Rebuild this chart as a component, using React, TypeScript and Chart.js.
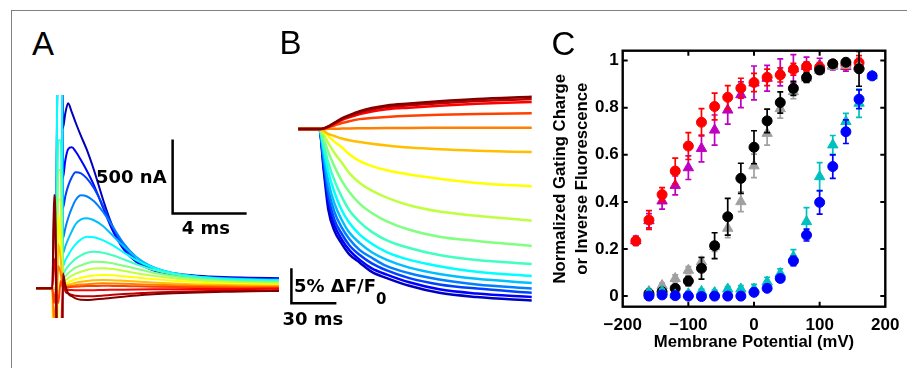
import React, { useEffect, useRef } from "react";
import { Chart, registerables } from "chart.js";

Chart.register(...registerables);

// ---------------- Panel A : gating currents (nA) vs time (ms) ----------------
const aTimeMs = [-1.13, -0.25, -0.16, -0.05, 0.07, 0.2, 0.32, 0.45, 0.6, 0.8, 1.0, 1.3, 1.6, 2.0, 2.5, 3.0, 3.6, 4.3, 5.2, 6.3, 7.6, 9.0, 10.5, 12.0];
const aCurrents = [
  [0, 0, 0, 0, 3000, 3000, 1082, 1183, 1251, 1190, 1122, 1028, 940, 798, 595, 419, 270, 183, 128, 101, 85, 76, 71, 68],
  [0, 0, 0, 0, 3000, 3000, 744, 865, 940, 953, 926, 865, 798, 696, 541, 392, 264, 176, 122, 95, 78, 71, 66, 64],
  [0, 0, 0, 0, 3000, 3000, 541, 622, 690, 750, 784, 777, 744, 676, 554, 419, 284, 189, 128, 95, 78, 69, 64, 61],
  [0, 0, 0, 0, 3000, 3000, 338, 406, 473, 541, 595, 629, 622, 588, 514, 419, 304, 210, 142, 101, 78, 68, 61, 57],
  [0, 0, 0, 0, 3000, 3000, 237, 284, 331, 385, 433, 466, 473, 460, 419, 358, 284, 210, 142, 101, 78, 66, 59, 56],
  [0, 0, 0, 0, 3000, 3000, 149, 189, 223, 264, 297, 331, 349, 345, 324, 291, 243, 189, 139, 101, 78, 64, 57, 54],
  [0, 0, 0, 0, 1000, 1000, 95, 122, 149, 176, 199, 223, 240, 247, 240, 223, 196, 162, 125, 95, 71, 57, 51, 47],
  [0, 0, 0, 0, 800, 800, 61, 81, 101, 122, 139, 155, 169, 180, 178, 169, 152, 132, 105, 81, 61, 49, 43, 41],
  [0, 0, 0, 0, 600, 600, 41, 54, 68, 85, 98, 112, 124, 134, 135, 130, 118, 101, 85, 68, 53, 43, 36, 34],
  [0, 0, -3000, -3000, 500, 300, 20, 30, 41, 51, 61, 71, 80, 87, 90, 88, 81, 73, 62, 51, 41, 32, 27, 24],
  [0, 0, -400, -300, 300, 200, 14, 17, 24, 30, 37, 44, 49, 54, 56, 55, 51, 46, 39, 32, 26, 22, 19, 17],
  [0, 0, -200, -100, 150, 100, 7, 10, 14, 17, 21, 25, 28, 31, 34, 33, 31, 28, 24, 20, 16, 13, 11, 10],
  [0, 0, -100, 0, -100, 50, 3, 5, 7, 9, 11, 13, 15, 16, 17, 16, 15, 13, 11, 9, 7, 5, 4, 3],
  [0, 0, 200, 0, -800, -500, 60, 0, -10, -12, -13, -14, -14, -13, -11, -10, -9, -8, -7, -6, -5, -4, -4, -3],
  [0, 0, 500, 100, -3000, -3000, 90, -20, -34, -44, -51, -54, -54, -53, -49, -44, -39, -34, -28, -24, -20, -17, -15, -14],
  [0, 0, 630, 150, -3000, -3000, 101, 20, -34, -54, -68, -78, -79, -76, -71, -64, -57, -49, -41, -34, -28, -24, -20, -18],
];

// ---------------- Panel B : fluorescence (% dF/F0) vs time (ms) ----------------
const bTimeMs = [-14, 0, 3, 6, 10, 15, 20, 27, 35, 45, 60, 80, 105, 141.6];
const bFluor = [
  [0, 0, -6.0, -11.5, -14.5, -16.4, -17.9, -19.1, -20.4, -21.3, -22.4, -23.4, -24.0, -24.5],
  [0, 0, -5.5, -10.5, -13.7, -15.8, -17.3, -18.7, -19.9, -20.8, -21.9, -22.9, -23.5, -24.0],
  [0, 0, -4.9, -9.6, -12.9, -15.0, -16.6, -18.0, -19.2, -20.2, -21.3, -22.2, -22.8, -23.4],
  [0, 0, -4.3, -8.6, -11.8, -14.1, -15.7, -17.3, -18.4, -19.6, -20.6, -21.5, -22.2, -22.8],
  [0, 0, -3.7, -7.5, -10.6, -13.0, -14.8, -16.3, -17.6, -18.7, -19.8, -20.7, -21.4, -22.0],
  [0, 0, -2.9, -6.1, -9.0, -11.6, -13.4, -15.1, -16.4, -17.6, -18.7, -19.6, -20.4, -21.0],
  [0, 0, -2.3, -4.8, -7.3, -9.7, -11.6, -13.3, -14.7, -15.9, -17.0, -18.0, -18.7, -19.3],
  [0, 0, -1.5, -3.3, -5.3, -7.4, -9.0, -10.7, -12.0, -13.2, -14.4, -15.4, -16.0, -16.7],
  [0, 0, -0.8, -2.0, -3.4, -4.8, -6.3, -7.7, -8.8, -9.8, -10.9, -11.8, -12.4, -13.1],
  [0, 0, -0.3, -1.0, -1.8, -2.6, -3.6, -4.6, -5.3, -5.9, -6.5, -7.1, -7.7, -8.2],
  [0, 0, -0.3, -0.7, -1.0, -1.35, -1.6, -1.85, -2.1, -2.35, -2.65, -2.9, -3.1, -3.3],
  [0, 0, 0.0, 0.02, 0.04, 0.06, 0.08, 0.1, 0.12, 0.14, 0.16, 0.17, 0.18, 0.19],
  [0, 0, 0.07, 0.22, 0.5, 0.85, 1.12, 1.41, 1.57, 1.72, 1.88, 2.02, 2.13, 2.24],
  [0, 0, 0.08, 0.31, 0.73, 1.27, 1.66, 2.12, 2.51, 2.82, 3.05, 3.32, 3.59, 3.86],
  [0, 0, 0.09, 0.34, 0.82, 1.42, 1.84, 2.36, 2.79, 3.13, 3.39, 3.69, 3.99, 4.29],
  [0, 0, 0.09, 0.37, 0.88, 1.52, 1.98, 2.54, 3.0, 3.37, 3.64, 3.96, 4.29, 4.61],
];

const jetColors = [
  "#0000BF", "#0000FF", "#0040FF", "#0080FF", "#00BFFF", "#00FFFF", "#40FFBF", "#80FF80",
  "#BFFF40", "#FFFF00", "#FFBF00", "#FF8000", "#FF4000", "#FF0000", "#BF0000", "#800000",
];

// scale bars (data units)
const barA = { x0: 6.25, y0: 505, dx: 4, dy: 500 }; // 4 ms, 500 nA
const barB = { x0: -18.6, y0: -24.9, dx: 30, dy: 5 }; // 30 ms, 5 %

// ---------------- Panel C : Q-V and F-V ----------------
const vRed = [-180, -160, -140, -120, -100, -80, -60, -40, -20, 0, 20, 40, 60, 80, 100, 120, 140, 160];
const redVals = [0.234, 0.323, 0.431, 0.531, 0.637, 0.738, 0.805, 0.844, 0.883, 0.907, 0.929, 0.939, 0.963, 0.975, 0.972, 0.986, 0.982, 0.991];
const redErr = [0.01, 0.04, 0.03, 0.055, 0.057, 0.058, 0.057, 0.05, 0.042, 0.039, 0.035, 0.03, 0.025, 0.02, 0.02, 0.015, 0.015, 0.03];
const magentaVals = [0.235, 0.32, 0.404, 0.47, 0.545, 0.627, 0.705, 0.79, 0.855, 0.905, 0.925, 0.95, 0.965, 0.975, 0.98, 0.98, 0.975, 0.98];
const magentaErr = [0.02, 0.03, 0.035, 0.04, 0.05, 0.057, 0.064, 0.06, 0.055, 0.072, 0.055, 0.057, 0.06, 0.04, 0.03, 0.02, 0.02, 0.03];

const vBlack = [-160, -140, -120, -100, -80, -60, -40, -20, 0, 20, 40, 60, 80, 100, 120, 140, 160];
const blackVals = [0.011, 0.018, 0.033, 0.064, 0.118, 0.214, 0.337, 0.5, 0.632, 0.744, 0.822, 0.882, 0.928, 0.96, 0.986, 0.993, 0.965];
const blackErr = [0.01, 0.01, 0.01, 0.02, 0.046, 0.055, 0.078, 0.064, 0.07, 0.05, 0.045, 0.03, 0.02, 0.015, 0.01, 0.01, 0.074];
const grayVals = [0.02, 0.045, 0.075, 0.11, 0.146, 0.21, 0.288, 0.401, 0.553, 0.691, 0.796, 0.868, 0.925, 0.958, 0.975, 0.98, 0.975];
const grayErr = [0.01, 0.01, 0.015, 0.015, 0.02, 0.02, 0.04, 0.042, 0.05, 0.05, 0.04, 0.03, 0.02, 0.015, 0.01, 0.01, 0.01];

const vBlue = [-160, -140, -120, -100, -80, -60, -40, -20, 0, 20, 40, 60, 80, 100, 120, 140, 160, 180];
const blueVals = [0.0, 0.005, 0.002, 0.0, -0.002, 0.0, 0.0, 0.0, 0.016, 0.033, 0.075, 0.149, 0.259, 0.398, 0.55, 0.698, 0.836, 0.935];
const blueErr = [0.005, 0.005, 0.005, 0.005, 0.005, 0.005, 0.005, 0.005, 0.01, 0.01, 0.015, 0.02, 0.025, 0.05, 0.05, 0.05, 0.04, 0.01];
const cyanVals = [0.015, 0.02, 0.005, 0.01, 0.02, 0.015, 0.03, 0.03, 0.03, 0.06, 0.096, 0.167, 0.316, 0.507, 0.642, 0.741, 0.819, 0.935];
const cyanErr = [0.01, 0.01, 0.01, 0.01, 0.01, 0.01, 0.01, 0.015, 0.02, 0.02, 0.02, 0.03, 0.06, 0.06, 0.04, 0.035, 0.06, 0.01];

const xTickValues = [-200, -100, 0, 100, 200];
const xTickLabels = ["\u2212200", "\u2212100", "0", "100", "200"];
const yTickValues = [0, 0.2, 0.4, 0.6, 0.8, 1];
const yTickLabels = ["0", "0.2", "0.4", "0.6", "0.8", "1"];

const SANS = "'Liberation Sans', Arial, Helvetica, sans-serif";
const DEJA = "'DejaVu Sans', sans-serif";

function scaleBarPlugin(bar: { x0: number; y0: number; dx: number; dy: number }) {
  return {
    id: "scalebar",
    afterDatasetsDraw(chart: any) {
      const xs = chart.scales.x;
      const ys = chart.scales.y;
      const ctx = chart.ctx;
      const px0 = xs.getPixelForValue(bar.x0);
      const px1 = xs.getPixelForValue(bar.x0 + bar.dx);
      const py0 = ys.getPixelForValue(bar.y0);
      const py1 = ys.getPixelForValue(bar.y0 + bar.dy);
      ctx.save();
      ctx.strokeStyle = "#000";
      ctx.lineWidth = 2.5;
      ctx.lineJoin = "miter";
      ctx.beginPath();
      ctx.moveTo(px0, py1);
      ctx.lineTo(px0, py0);
      ctx.lineTo(px1, py0);
      ctx.stroke();
      ctx.restore();
    },
  };
}

function traceConfig(time: number[], traces: number[][], xr: number[], yr: number[], lw: number, bar: any): any {
  return {
    type: "line",
    data: {
      datasets: traces.map((tr, i) => ({
        data: time.map((t, j) => ({ x: t, y: tr[j] })),
        borderColor: jetColors[i],
        backgroundColor: jetColors[i],
        borderWidth: lw,
        pointRadius: 0,
        fill: false,
        cubicInterpolationMode: "monotone",
        order: traces.length - i,
      })),
    },
    options: {
      animation: false,
      responsive: false,
      events: [],
      layout: { padding: 0 },
      plugins: { legend: { display: false }, tooltip: { enabled: false } },
      scales: {
        x: { type: "linear", display: false, min: xr[0], max: xr[1] },
        y: { type: "linear", display: false, min: yr[0], max: yr[1] },
      },
    },
    plugins: [scaleBarPlugin(bar)],
  };
}

const errorBarPlugin = {
  id: "errbars",
  beforeDatasetDraw(chart: any, args: any) {
    const ds = chart.data.datasets[args.index];
    const errs: number[] | undefined = ds.errors;
    if (!errs) return;
    const xs = chart.scales.x;
    const ys = chart.scales.y;
    const ctx = chart.ctx;
    ctx.save();
    ctx.strokeStyle = ds.backgroundColor;
    ctx.lineWidth = 1.7;
    ctx.beginPath();
    ds.data.forEach((p: any, i: number) => {
      const px = xs.getPixelForValue(p.x);
      const yTop = ys.getPixelForValue(p.y + errs[i]);
      const yBot = ys.getPixelForValue(p.y - errs[i]);
      ctx.moveTo(px, yBot);
      ctx.lineTo(px, yTop);
      ctx.moveTo(px - 3, yTop);
      ctx.lineTo(px + 3, yTop);
      ctx.moveTo(px - 3, yBot);
      ctx.lineTo(px + 3, yBot);
    });
    ctx.stroke();
    ctx.restore();
  },
};

const boxPlugin = {
  id: "box",
  afterDatasetsDraw(chart: any) {
    const { left, right, top, bottom } = chart.chartArea;
    const xs = chart.scales.x;
    const ys = chart.scales.y;
    const ctx = chart.ctx;
    ctx.save();
    ctx.strokeStyle = "#000";
    ctx.lineWidth = 2.4;
    ctx.strokeRect(left, top, right - left, bottom - top);
    ctx.lineWidth = 2;
    ctx.beginPath();
    xTickValues.forEach((v) => {
      const p = xs.getPixelForValue(v);
      if (p > left + 2 && p < right - 2) {
        ctx.moveTo(p, bottom);
        ctx.lineTo(p, bottom - 5);
        ctx.moveTo(p, top);
        ctx.lineTo(p, top + 5);
      }
    });
    yTickValues.forEach((v) => {
      const p = ys.getPixelForValue(v);
      ctx.moveTo(left, p);
      ctx.lineTo(left + 5, p);
      ctx.moveTo(right, p);
      ctx.lineTo(right - 5, p);
    });
    ctx.stroke();
    ctx.restore();
  },
};

function seriesDataset(xv: number[], yv: number[], ev: number[], color: string, style: string) {
  return {
    data: xv.map((v, i) => ({ x: v, y: yv[i] })),
    errors: ev,
    backgroundColor: color,
    borderColor: color,
    borderWidth: 1,
    pointStyle: style,
    pointRadius: style === "circle" ? 5 : 6,
    showLine: false,
  };
}

function qvConfig(): any {
  const tickFont = { family: SANS, size: 17, weight: "bold" };
  return {
    type: "scatter",
    data: {
      datasets: [
        seriesDataset(vBlue, blueVals, blueErr, "#0000FF", "circle"),
        seriesDataset(vBlue, cyanVals, cyanErr, "#00BFBF", "triangle"),
        seriesDataset(vBlack, blackVals, blackErr, "#000000", "circle"),
        seriesDataset(vBlack, grayVals, grayErr, "#A0A0A0", "triangle"),
        seriesDataset(vRed, redVals, redErr, "#FF0000", "circle"),
        seriesDataset(vRed, magentaVals, magentaErr, "#BF00BF", "triangle"),
      ],
    },
    options: {
      animation: false,
      responsive: false,
      events: [],
      layout: { padding: { left: 0, top: 10.7, right: 21.7, bottom: 0 } },
      plugins: { legend: { display: false }, tooltip: { enabled: false } },
      scales: {
        x: {
          type: "linear",
          min: -200,
          max: 200,
          afterFit: (s: any) => {
            s.height = 61.3;
            s.paddingLeft = 0;
            s.paddingRight = 0;
          },
          afterBuildTicks: (s: any) => {
            s.ticks = xTickValues.map((v) => ({ value: v }));
          },
          grid: { display: false, drawTicks: false, tickLength: 0 },
          border: { display: false },
          ticks: {
            autoSkip: false,
            maxRotation: 0,
            padding: 8,
            color: "#000",
            font: tickFont,
            callback: (_v: any, i: number) => xTickLabels[i],
          },
          title: {
            display: true,
            text: "Membrane Potential (mV)",
            color: "#000",
            font: { family: SANS, size: 16.7, weight: "bold", lineHeight: 1.2 },
            padding: { top: 0, bottom: 16 },
          },
        },
        y: {
          type: "linear",
          min: -0.045,
          max: 1.042,
          afterFit: (s: any) => {
            s.width = 82.7;
            s.paddingTop = 0;
            s.paddingBottom = 0;
          },
          afterBuildTicks: (s: any) => {
            s.ticks = yTickValues.map((v) => ({ value: v }));
          },
          grid: { display: false, drawTicks: false, tickLength: 0 },
          border: { display: false },
          ticks: {
            autoSkip: false,
            padding: 4,
            color: "#000",
            font: tickFont,
            callback: (_v: any, i: number) => yTickLabels[i],
          },
          title: {
            display: true,
            text: ["Normalized Gating Charge", "or Inverse Fluorescence"],
            color: "#000",
            font: { family: SANS, size: 16.7, weight: "bold", lineHeight: 1.36 },
            padding: { top: 8.6, bottom: 0 },
          },
        },
      },
    },
    plugins: [errorBarPlugin, boxPlugin],
  };
}

function ChartBox({ x, y, w, h, make }: { x: number; y: number; w: number; h: number; make: () => any }) {
  const ref = useRef<HTMLCanvasElement | null>(null);
  useEffect(() => {
    if (!ref.current) return;
    const chart = new Chart(ref.current, make());
    return () => chart.destroy();
  }, []);
  return (
    <canvas
      ref={ref}
      width={w}
      height={h}
      style={{ position: "absolute", left: x, top: y, width: w, height: h, display: "block" }}
    />
  );
}

function Label({ x, y, size, family, weight, children }: any) {
  return (
    <div
      style={{
        position: "absolute",
        left: x,
        top: y,
        fontFamily: family,
        fontSize: size,
        fontWeight: weight,
        lineHeight: `${size}px`,
        whiteSpace: "nowrap",
        color: "#000",
      }}
    >
      {children}
    </div>
  );
}

export default function App() {
  return (
    <div
      style={{
        position: "fixed",
        left: 0,
        top: 0,
        width: 907,
        height: 368,
        background: "#fff",
        overflow: "hidden",
      }}
    >
      <div
        style={{
          position: "absolute",
          left: 11,
          top: 10,
          width: 920,
          height: 400,
          borderTop: "1px solid #808080",
          borderLeft: "1px solid #808080",
        }}
      />
      <ChartBox
        x={36}
        y={95}
        w={243}
        h={223}
        make={() => traceConfig(aTimeMs, aCurrents, [-1.1351, 12.0], [-200.7, 1306.1], 2, barA)}
      />
      <ChartBox
        x={280}
        y={85}
        w={254}
        h={225}
        make={() => traceConfig(bTimeMs, bFluor, [-26.2, 143.13], [-25.857, 6.2857], 2.5, barB)}
      />
      <ChartBox x={540} y={40} w={367} h={328} make={qvConfig} />

      <Label x={32} y={27} size={33} family={SANS} weight="normal">A</Label>
      <Label x={279.5} y={26} size={33} family={SANS} weight="normal">B</Label>
      <Label x={551.5} y={27} size={33} family={SANS} weight="normal">C</Label>

      <Label x={96} y={168} size={18} family={DEJA} weight="bold">500 nA</Label>
      <Label x={181.7} y={218.8} size={18} family={DEJA} weight="bold">4 ms</Label>
      <Label x={294} y={276.5} size={18} family={DEJA} weight="bold">
        5% ΔF/F<span style={{ fontSize: 15, position: "relative", top: 12 }}>0</span>
      </Label>
      <Label x={282.5} y={309.8} size={18} family={DEJA} weight="bold">30 ms</Label>
    </div>
  );
}
